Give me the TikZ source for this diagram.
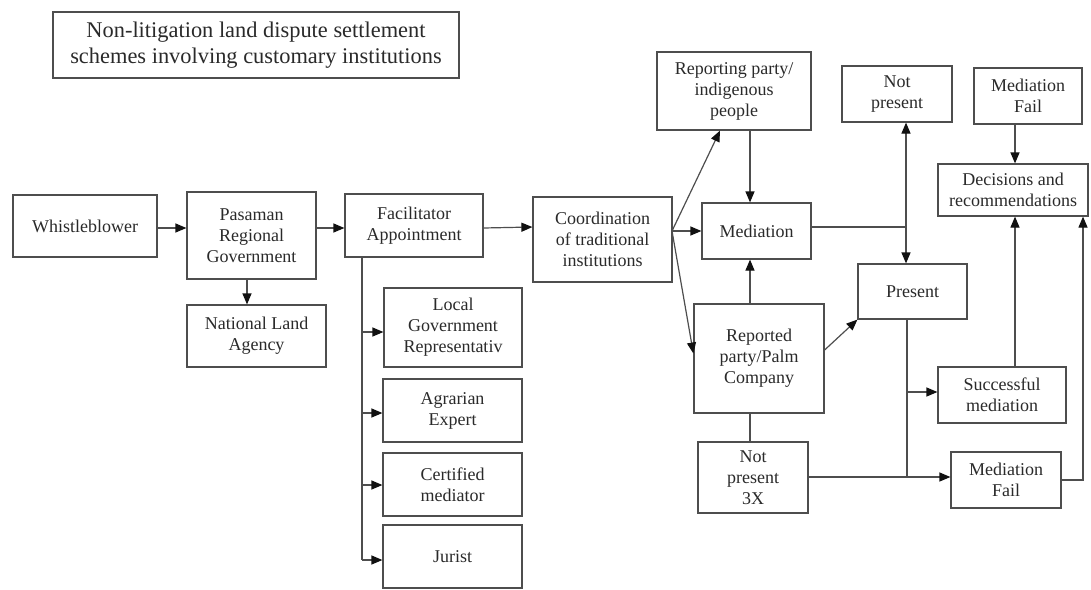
\documentclass[tikz,border=0pt]{standalone}
\usepackage{fontspec}
\setmainfont{Liberation Serif}
\usetikzlibrary{arrows.meta}
\definecolor{linecol}{HTML}{4E4E4E}
\definecolor{textcol}{HTML}{2A2A2A}
\definecolor{tipcol}{HTML}{111111}
\tikzset{
  box/.style={draw=linecol, line width=1.2pt, inner sep=0pt, align=center, text=textcol,
    font=\fontsize{18}{21}\selectfont},
  conn/.style={draw=linecol, line width=1.2pt},
  tip/.tip={Triangle[length=11pt,width=9pt,fill=tipcol,color=tipcol]},
  arr/.style={conn, -tip},
  darr/.style={conn, tip-tip},
}
\begin{document}
\begin{tikzpicture}[x=1pt,y=-1pt]
\useasboundingbox[fill=white] (0,0) rectangle (1091,589);
% boxes
\node[box, minimum width=406, minimum height=66, font=\fontsize{22.4}{25.6}\selectfont] (title) at (256,45)
  {Non-litigation land dispute settlement\\schemes involving customary institutions};
\node[box, minimum width=144, minimum height=62] (wb) at (85,226) {Whistleblower};
\node[box, minimum width=129, minimum height=87] (pas) at (251.5,235.5) {Pasaman\\Regional\\Government};
\node[box, minimum width=139, minimum height=62] (nla) at (256.5,336) {National Land\\Agency};
\node[box, minimum width=138, minimum height=63] (fac) at (414,225.5) {Facilitator\\Appointment};
\node[box, minimum width=139, minimum height=85] (coord) at (602.5,239.5) {Coordination\\of traditional\\institutions};
\node[box, minimum width=154, minimum height=78] (rep) at (734,91) {Reporting party/\\indigenous\\people};
\node[box, minimum width=109, minimum height=56] (med) at (756.5,231) {Mediation};
\node[box, minimum width=110, minimum height=56] (np) at (897,94) {Not\\present};
\node[box, minimum width=108, minimum height=56] (mfa) at (1028,96) {Mediation\\Fail};
\node[box, minimum width=150, minimum height=52] (dec) at (1013,190) {Decisions and\\recommendations};
\node[box, minimum width=109, minimum height=55] (pres) at (912.5,291.5) {Present};
\node[box, minimum width=130, minimum height=109] (rpd) at (759,358.5) {Reported\\party/Palm\\Company};
\node[box, minimum width=128, minimum height=56] (succ) at (1002,395) {Successful\\mediation};
\node[box, minimum width=110, minimum height=71] (npt) at (753,477.5) {Not\\present\\3X};
\node[box, minimum width=110, minimum height=56] (mfb) at (1006,480) {Mediation\\Fail};
\node[box, minimum width=138, minimum height=79] (lg) at (453,327.5) {Local\\Government\\Representativ};
\node[box, minimum width=139, minimum height=63] (agr) at (452.5,410.5) {Agrarian\\Expert};
\node[box, minimum width=139, minimum height=63] (cert) at (452.5,484.5) {Certified\\mediator};
\node[box, minimum width=139, minimum height=63] (jur) at (452.5,556.5) {Jurist};
% helper coordinates
\coordinate (trunk) at (362,257);
\coordinate (cb) at (672,231);
\coordinate (xa) at (750,0);
\coordinate (vj) at (906,227);
\coordinate (pj) at (907,477);
\coordinate (xd) at (1015,0);
\coordinate (xr) at (1083,0);
% connectors
\draw[arr] (wb.east |- 0,228) -- (pas.west |- 0,228);
\draw[arr] (pas.east |- 0,228) -- (fac.west |- 0,228);
\draw[arr] ([xshift=-4.5pt]pas.south) -- ([xshift=-4.5pt]pas.south |- nla.north);
\draw[arr] (fac.east |- 0,228) -- (coord.west |- 0,227);
\draw[conn] (trunk) -- (trunk |- 0,560);
\draw[arr] (trunk |- 0,332) -- (lg.west |- 0,332);
\draw[arr] (trunk |- 0,413) -- (agr.west |- 0,413);
\draw[arr] (trunk |- 0,485) -- (cert.west |- 0,485);
\draw[arr] (trunk |- 0,560) -- (jur.west |- 0,560);
\draw[arr] (cb) -- ([xshift=-14pt]rep.south);
\draw[arr] (cb) -- (med.west);
\draw[arr] (cb) -- ([yshift=5pt]rpd.west);
\draw[arr] (rep.south -| xa) -- (med.north -| xa);
\draw[arr] (rpd.north -| xa) -- (med.south -| xa);
\draw[conn] (rpd.south -| xa) -- (npt.north -| xa);
\draw[conn] (med.east |- vj) -- (vj);
\draw[darr] (np.south -| vj) -- (pres.north -| vj);
\draw[arr] ([yshift=8.5pt]rpd.east) -- (pres.south west);
\draw[conn] (pres.south -| pj) -- (pj);
\draw[arr] (pj |- 0,392) -- (succ.west |- 0,392);
\draw[arr] (npt.east |- pj) -- (mfb.west |- pj);
\draw[arr] (mfb.east) -- (mfb.east -| xr) -- (dec.south -| xr);
\draw[arr] (succ.north -| xd) -- (dec.south -| xd);
\draw[arr] (mfa.south -| xd) -- (dec.north -| xd);
\end{tikzpicture}
\end{document}
